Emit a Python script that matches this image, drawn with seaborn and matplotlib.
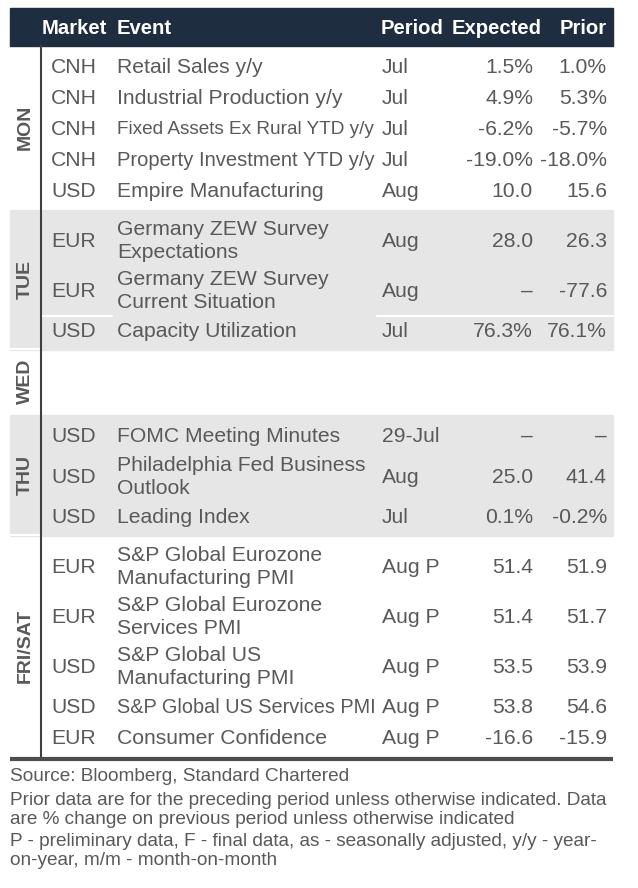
import matplotlib
matplotlib.use("Agg")
import matplotlib.pyplot as plt
from matplotlib.patches import Rectangle
import seaborn as sns
import pandas as pd

days = ["MON", "TUE", "WED", "THU", "FRI/SAT"]
shaded_days = ["TUE", "THU"]
row_day = ["MON"] * 5 + ["TUE"] * 3 + ["THU"] * 3 + ["FRI/SAT"] * 5
markets = ["CNH", "CNH", "CNH", "CNH", "USD",
           "EUR", "EUR", "USD",
           "USD", "USD", "USD",
           "EUR", "EUR", "USD", "USD", "EUR"]
events = ["Retail Sales y/y", "Industrial Production y/y",
          "Fixed Assets Ex Rural YTD y/y", "Property Investment YTD y/y",
          "Empire Manufacturing",
          "Germany ZEW Survey\nExpectations", "Germany ZEW Survey\nCurrent Situation",
          "Capacity Utilization",
          "FOMC Meeting Minutes", "Philadelphia Fed Business\nOutlook", "Leading Index",
          "S&P Global Eurozone\nManufacturing PMI", "S&P Global Eurozone\nServices PMI",
          "S&P Global US\nManufacturing PMI", "S&P Global US Services PMI",
          "Consumer Confidence"]
periods = ["Jul", "Jul", "Jul", "Jul", "Aug",
           "Aug", "Aug", "Jul",
           "29-Jul", "Aug", "Jul",
           "Aug P", "Aug P", "Aug P", "Aug P", "Aug P"]
expected = ["1.5%", "4.9%", "-6.2%", "-19.0%", "10.0",
            "28.0", "\u2013", "76.3%",
            "\u2013", "25.0", "0.1%",
            "51.4", "51.4", "53.5", "53.8", "-16.6"]
prior = ["1.0%", "5.3%", "-5.7%", "-18.0%", "15.6",
         "26.3", "-77.6", "76.1%",
         "\u2013", "41.4", "-0.2%",
         "51.9", "51.7", "53.9", "54.6", "-15.9"]
footer = ["Source: Bloomberg, Standard Chartered",
          "Prior data are for the preceding period unless otherwise indicated. Data",
          "are % change on previous period unless otherwise indicated",
          "P - preliminary data, F - final data, as - seasonally adjusted, y/y - year-",
          "on-year, m/m - month-on-month"]

df = pd.DataFrame({"day": row_day, "market": markets, "event": events,
                   "period": periods, "expected": expected, "prior": prior})
df["lines"] = df["event"].str.count("\n") + 1

sns.set_theme(style="white")
plt.rcParams["font.family"] = ["Liberation Sans", "DejaVu Sans"]

navy = "#1f2d40"
grey_band = "#e6e6e6"
txt = "#595959"
fs = 15.2

fig = plt.figure(figsize=(6.38, 8.88), dpi=100)
ax = fig.add_axes([0, 0, 1, 1])
ax.set_xlim(0, 638)
ax.set_ylim(888, 0)
ax.axis("off")
renderer = fig.canvas.get_renderer()

# header
ax.add_patch(Rectangle((10, 8), 603, 38, color=navy, zorder=1))
hdr = dict(color="white", fontsize=14.6, fontweight="bold", va="center", zorder=3)
ax.text(42, 28, "Market", ha="left", **hdr)
ax.text(117, 28, "Event", ha="left", **hdr)
ax.text(381, 28, "Period", ha="left", **hdr)
ax.text(542, 28, "Expected", ha="right", **hdr)
ax.text(607, 28, "Prior", ha="right", **hdr)

single_h, double_h = 31, 50
pad_top, pad_bot = 6, 3
event_max_w = 258

y = 46
for day in days:
    sub = df[df["day"] == day]
    heights = [single_h if n == 1 else double_h for n in sub["lines"]]
    height = 65 if sub.empty else pad_top + sum(heights) + pad_bot
    if day in shaded_days:
        ax.add_patch(Rectangle((10, y), 603, height, color=grey_band, zorder=0))
        # small white gap under the day cell
        ax.plot([10, 41], [y + height - 1, y + height - 1], color="white", lw=1.5, zorder=1)
    ax.text(25, y + height / 2 - 1, day, rotation=90, ha="center", va="center",
            fontsize=14, fontweight="bold", color=txt)
    cy = y + pad_top
    for (_, r), h in zip(sub.iterrows(), heights):
        c = cy + h / 2
        kw = dict(color=txt, fontsize=fs, va="center", zorder=3)
        ax.text(51, c, r["market"], ha="left", **kw)
        t = ax.text(117, c, r["event"], ha="left", linespacing=1.3, **kw)
        w = t.get_window_extent(renderer).width
        if w > event_max_w:
            t.set_fontsize(fs * event_max_w / w)
        ax.text(382, c, r["period"], ha="left", **kw)
        ax.text(533, c, r["expected"], ha="right", **kw)
        ax.text(607, c, r["prior"], ha="right", **kw)
        cy += h
        if day == "TUE" and r["event"].endswith("Current Situation"):
            ax.plot([42, 112], [cy, cy], color="white", lw=1.5, zorder=2)
            ax.plot([377, 613], [cy, cy], color="white", lw=1.5, zorder=2)
    y += height

bottom = y + 2
ax.plot([41, 41], [46, bottom], color="#404040", lw=1.5, zorder=4)
ax.plot([10, 613], [bottom, bottom], color="#4d4d4d", lw=3, zorder=4,
        solid_capstyle="butt")

for line, fy in zip(footer, [776, 800, 819, 841, 860]):
    ax.text(10, fy, line, ha="left", va="center", fontsize=13.7, color=txt)

fig.savefig("out.png", dpi=100)
